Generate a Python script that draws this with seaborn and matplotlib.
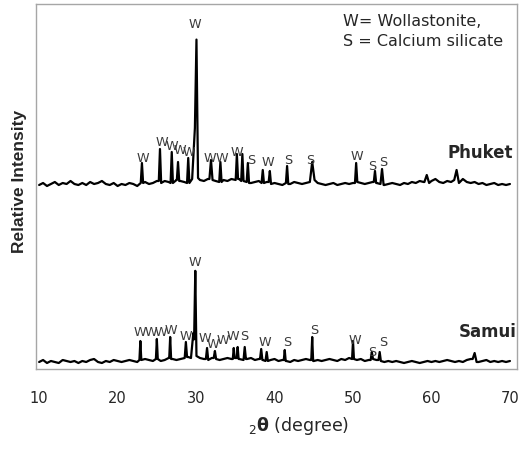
import matplotlib
matplotlib.use("Agg")
import matplotlib.pyplot as plt
import numpy as np
import pandas as pd
import seaborn as sns

# 2-theta grid of the background readings (every 0.5 degree, 10..70)
GRID = np.arange(10.0, 70.01, 0.5)

# background level (plot units, Phuket trace is offset upward)
PHUKET_BASE = [
    184, 186, 183, 185, 187, 184, 186, 185, 188, 185, 184,
    186, 184, 187, 185, 186, 188, 185, 184, 186, 183,
    185, 184, 186, 185, 183, 186, 187, 185, 186, 188,
    186, 188, 187, 186, 189, 188, 187, 186, 190, 191,
    189, 188, 190, 189, 188, 187, 189, 188, 190, 189,
    190, 188, 187, 186, 187, 188, 186, 187, 185, 186,
    185, 184, 186, 185, 187, 186, 185, 186, 187, 189,
    186, 185, 184, 185, 186, 184, 185, 186, 185, 186,
    187, 186, 185, 186, 187, 186, 185, 184, 185, 186,
    185, 184, 186, 185, 187, 186, 188, 187, 186, 188,
    190, 187, 186, 188, 187, 189, 186, 190, 187, 186,
    187, 185, 186, 184, 185, 186, 184, 185, 184, 185,
]
SAMUI_BASE = [
    7, 9, 6, 8, 7, 6, 9, 8, 7, 8, 6,
    8, 7, 9, 10, 7, 6, 8, 7, 9, 8,
    7, 8, 9, 8, 7, 9, 10, 9, 8, 10,
    8, 9, 11, 10, 9, 10, 11, 12, 11, 13,
    11, 10, 9, 11, 10, 9, 10, 11, 10, 11,
    10, 9, 10, 11, 9, 10, 9, 8, 9, 10,
    8, 9, 8, 7, 9, 8, 9, 10, 9, 8,
    9, 8, 9, 10, 9, 8, 10, 9, 11, 10,
    9, 10, 8, 9, 10, 9, 8, 7, 8, 7,
    8, 7, 6, 7, 8, 7, 6, 7, 8, 7,
    8, 7, 8, 9, 8, 7, 8, 7, 9, 10,
    8, 7, 8, 9, 7, 8, 7, 8, 7, 8,
]

# diffraction peaks: position (2theta), height above background, half base width
PHUKET_POS = [23.1, 25.4, 26.9, 27.7, 29.0, 29.85, 30.05, 31.9, 33.1, 35.2, 35.9,
              36.6, 38.5, 39.4, 41.6, 44.8, 50.4, 52.8, 53.7, 59.4, 63.2]
PHUKET_H = [20, 34, 31, 18, 25, 50, 117, 20, 20, 26, 27,
            19, 13, 13, 17, 18, 19, 12, 15, 8, 10]
PHUKET_W = [0.15, 0.15, 0.15, 0.15, 0.15, 0.35, 0.2, 0.2, 0.15, 0.15, 0.15,
            0.15, 0.15, 0.15, 0.15, 0.3, 0.15, 0.15, 0.2, 0.3, 0.3]

SAMUI_POS = [22.9, 25.0, 26.7, 28.7, 29.65, 29.9, 31.4, 32.4, 34.8, 35.3, 36.2,
             38.3, 39.0, 41.3, 44.8, 50.0, 52.4, 53.4, 65.5]
SAMUI_H = [19, 20, 21, 16, 25, 81, 12, 8, 10, 12, 13,
           11, 9, 11, 24, 18, 7, 9, 8]
SAMUI_W = [0.12, 0.12, 0.12, 0.15, 0.3, 0.15, 0.15, 0.15, 0.12, 0.12, 0.15,
           0.15, 0.15, 0.12, 0.12, 0.12, 0.15, 0.15, 0.25]

# phase labels: letter, 2theta, height
PHUKET_LABELS = [("W", 23.2, 210), ("W", 25.7, 226), ("W", 26.9, 222), ("W", 28.0, 219),
                 ("W", 29.1, 216), ("W", 29.9, 345), ("W", 31.8, 211), ("W", 33.3, 211),
                 ("W", 35.2, 217), ("S", 37.0, 209), ("W", 39.2, 206), ("S", 41.7, 208),
                 ("S", 44.6, 208), ("W", 50.5, 212), ("S", 52.5, 202), ("S", 53.8, 206)]
SAMUI_LABELS = [("W", 22.9, 36), ("W", 24.3, 37), ("W", 25.5, 37), ("W", 26.8, 38),
                ("W", 28.7, 32), ("W", 29.9, 106), ("W", 31.1, 31), ("W", 32.2, 25),
                ("W", 33.4, 29), ("W", 34.7, 32), ("S", 36.2, 32), ("W", 38.8, 27),
                ("S", 41.6, 27), ("S", 45.0, 39), ("W", 50.3, 29), ("S", 52.5, 17),
                ("S", 53.8, 26)]

XTICKS = [10, 20, 30, 40, 50, 60, 70]


def trace(name, base, pos, h, w):
    base = np.asarray(base, float)
    pos, h, w = map(np.asarray, (pos, h, w))
    xs = np.concatenate([GRID, pos, pos - w, pos + w])
    xs = np.unique(np.round(xs, 3))
    near = base[np.clip(np.round((xs - 10) / 0.5).astype(int), 0, len(base) - 1)]
    # triangular peak profile on top of the background reading
    ys = near + (h[None, :] * np.clip(1 - np.abs(xs[:, None] - pos[None, :]) / w[None, :],
                                      0, None)).sum(axis=1)
    return pd.DataFrame({"two_theta": xs, "intensity": ys, "sample": name})


df = pd.concat([trace("Phuket", PHUKET_BASE, PHUKET_POS, PHUKET_H, PHUKET_W),
                trace("Samui", SAMUI_BASE, SAMUI_POS, SAMUI_H, SAMUI_W)])

sns.set_style("white")
plt.rcParams["font.family"] = ["DejaVu Sans"]
plt.rcParams["mathtext.fontset"] = "dejavusans"

fig = plt.figure(figsize=(5.28, 4.5), dpi=100)
ax = fig.add_axes([36 / 528, 1 - 369 / 450, 481 / 528, 365 / 450])
sns.lineplot(df, x="two_theta", y="intensity", hue="sample",
             palette={"Phuket": "black", "Samui": "black"}, lw=1.6,
             legend=False, ax=ax, estimator=None)

for letter, x, y in PHUKET_LABELS + SAMUI_LABELS:
    ax.text(x, y, letter, fontsize=9.2, color="#3a3a3a", ha="center", va="center")

ax.text(70.4, 216, "Phuket", fontsize=12, fontweight="bold", ha="right", va="center")
ax.text(70.8, 37, "Samui", fontsize=12, fontweight="bold", ha="right", va="center")
ax.text(48.7, 347, "W= Wollastonite,", fontsize=11.5, ha="left", va="center")
ax.text(48.7, 327, "S = Calcium silicate", fontsize=11.5, ha="left", va="center")

ax.set_xlim(9.6, 70.9)
ax.set_ylim(0, 365)
ax.set_xticks(XTICKS)
ax.set_yticks([])
ax.tick_params(axis="x", length=0, pad=16, labelsize=10.5)
ax.set_xlabel("")
ax.set_ylabel("")
for sp in ax.spines.values():
    sp.set_color("#a6a6a6")
    sp.set_linewidth(1)

fig.text(20 / 528, 1 - 181 / 450, "Relative Intensity", rotation=90, fontsize=12.5,
         fontweight="bold", family=["Liberation Sans", "DejaVu Sans"],
         ha="center", va="center")
fig.text(299 / 528, 1 - 426 / 450, r"$_{2}\mathbf{\theta}$ (degree)", fontsize=12.5,
         ha="center", va="center")

fig.savefig("out.png", dpi=100)
